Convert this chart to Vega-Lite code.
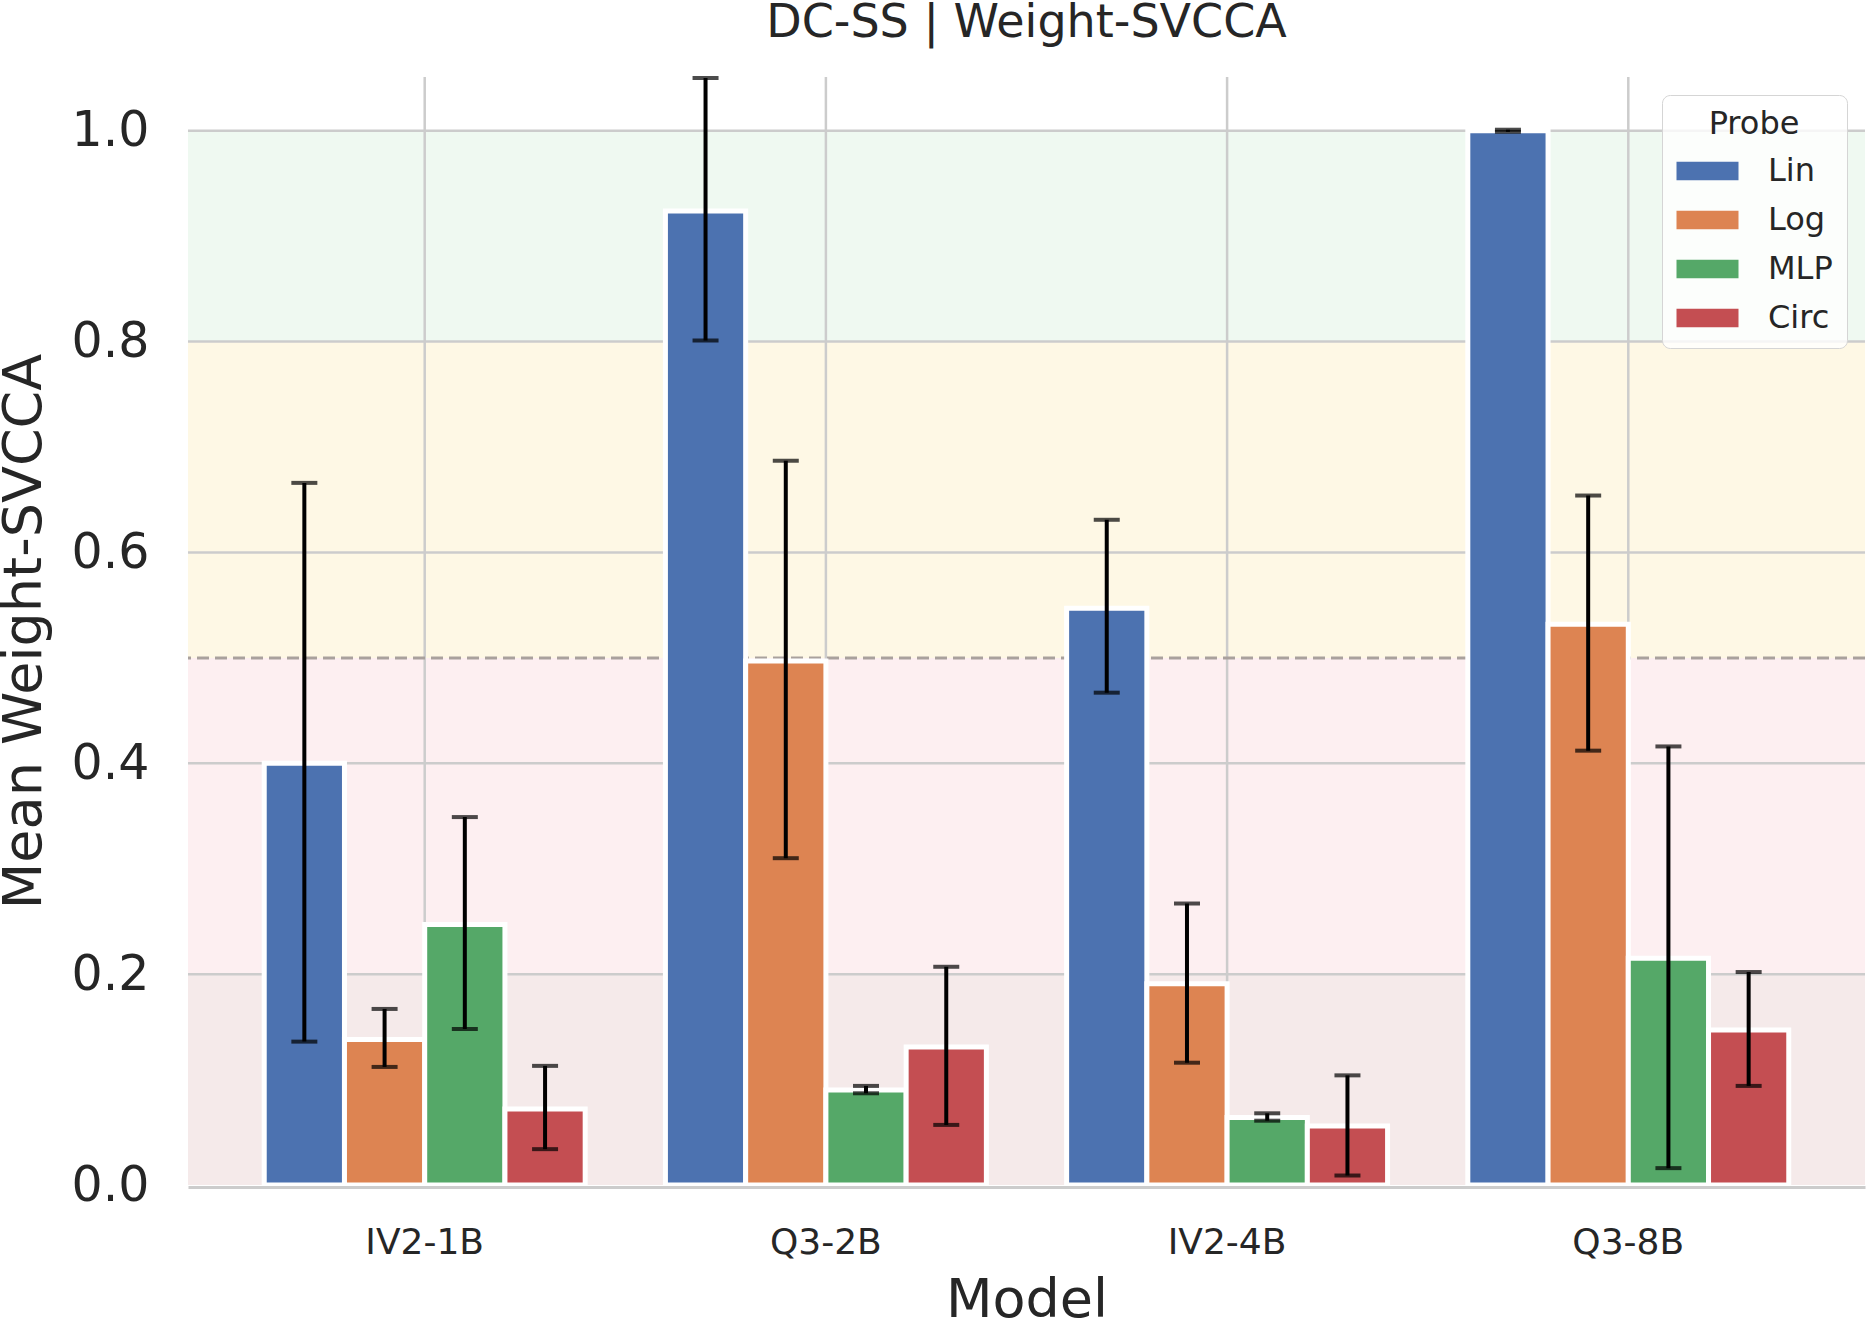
{
  "$schema": "https://vega.github.io/schema/vega-lite/v6.json",
  "width": 1677,
  "height": 1108,
  "autosize": {"type": "none"},
  "padding": {"left": 188, "top": 77, "right": 2, "bottom": 136},
  "background": "white",
  "config": {
    "font": "DejaVu Sans",
    "view": {"stroke": null},
    "axis": {
      "grid": false,
      "domain": false,
      "ticks": false,
      "labelColor": "#262626",
      "titleColor": "#262626",
      "titleFontWeight": "normal"
    }
  },
  "title": {
    "text": "DC-SS | Weight-SVCCA",
    "fontSize": 46,
    "fontWeight": "normal",
    "color": "#262626",
    "anchor": "middle",
    "offset": 29
  },
  "datasets": {
    "scores": [
      {"Model": "IV2-1B", "Probe": "Lin", "mean": 0.400, "lo": 0.136, "hi": 0.666},
      {"Model": "IV2-1B", "Probe": "Log", "mean": 0.138, "lo": 0.112, "hi": 0.167},
      {"Model": "IV2-1B", "Probe": "MLP", "mean": 0.247, "lo": 0.148, "hi": 0.349},
      {"Model": "IV2-1B", "Probe": "Circ", "mean": 0.072, "lo": 0.034, "hi": 0.113},
      {"Model": "Q3-2B", "Probe": "Lin", "mean": 0.924, "lo": 0.801, "hi": 1.050},
      {"Model": "Q3-2B", "Probe": "Log", "mean": 0.497, "lo": 0.310, "hi": 0.687},
      {"Model": "Q3-2B", "Probe": "MLP", "mean": 0.090, "lo": 0.087, "hi": 0.094},
      {"Model": "Q3-2B", "Probe": "Circ", "mean": 0.131, "lo": 0.057, "hi": 0.207},
      {"Model": "IV2-4B", "Probe": "Lin", "mean": 0.547, "lo": 0.467, "hi": 0.631},
      {"Model": "IV2-4B", "Probe": "Log", "mean": 0.191, "lo": 0.116, "hi": 0.267},
      {"Model": "IV2-4B", "Probe": "MLP", "mean": 0.064, "lo": 0.061, "hi": 0.068},
      {"Model": "IV2-4B", "Probe": "Circ", "mean": 0.056, "lo": 0.009, "hi": 0.104},
      {"Model": "Q3-8B", "Probe": "Lin", "mean": 1.000, "lo": 0.999, "hi": 1.001},
      {"Model": "Q3-8B", "Probe": "Log", "mean": 0.532, "lo": 0.412, "hi": 0.654},
      {"Model": "Q3-8B", "Probe": "MLP", "mean": 0.215, "lo": 0.016, "hi": 0.416},
      {"Model": "Q3-8B", "Probe": "Circ", "mean": 0.147, "lo": 0.094, "hi": 0.202}
    ],
    "zones": [
      {"zone": "very low", "lo": 0.0, "hi": 0.2},
      {"zone": "low", "lo": 0.2, "hi": 0.5},
      {"zone": "moderate", "lo": 0.5, "hi": 0.8},
      {"zone": "high", "lo": 0.8, "hi": 1.0}
    ],
    "gridY": [{"v": 0.2}, {"v": 0.4}, {"v": 0.6}, {"v": 0.8}, {"v": 1.0}],
    "models": [{"Model": "IV2-1B"}, {"Model": "Q3-2B"}, {"Model": "IV2-4B"}, {"Model": "Q3-8B"}],
    "threshold": [{"v": 0.5}]
  },
  "resolve": {"scale": {"fill": "independent", "color": "independent"}},
  "layer": [
    {
      "data": {"name": "zones"},
      "mark": {"type": "rect"},
      "encoding": {
        "y": {
          "field": "lo",
          "type": "quantitative",
          "scale": {"domain": [0, 1.051], "nice": false, "zero": false},
          "axis": {
            "title": "Mean Weight-SVCCA",
            "titleFontSize": 54,
            "labelFontSize": 49,
            "values": [0, 0.2, 0.4, 0.6, 0.8, 1.0],
            "format": ".1f",
            "labelPadding": 39,
            "titlePadding": 20
          }
        },
        "y2": {"field": "hi"},
        "fill": {
          "field": "zone",
          "type": "nominal",
          "scale": {
            "domain": ["very low", "low", "moderate", "high"],
            "range": ["#f5eaea", "#fdeff1", "#fef8e5", "#eff9f1"]
          },
          "legend": null
        }
      }
    },
    {
      "data": {"name": "gridY"},
      "mark": {"type": "rule", "color": "#cccccc", "strokeWidth": 2.5},
      "encoding": {"y": {"field": "v", "type": "quantitative"}}
    },
    {
      "data": {"name": "models"},
      "mark": {"type": "rule", "color": "#cccccc", "strokeWidth": 2.5},
      "encoding": {
        "x": {
          "field": "Model",
          "type": "nominal",
          "sort": ["IV2-1B", "Q3-2B", "IV2-4B", "Q3-8B"],
          "scale": {"paddingInner": 0, "paddingOuter": 0.09}
        }
      }
    },
    {
      "data": {"name": "threshold"},
      "mark": {"type": "rule", "color": "#a9a19d", "strokeWidth": 3, "strokeDash": [12, 6]},
      "encoding": {"y": {"field": "v", "type": "quantitative"}}
    },
    {
      "data": {"name": "scores"},
      "mark": {"type": "bar", "stroke": "white", "strokeWidth": 5},
      "encoding": {
        "x": {
          "field": "Model",
          "type": "nominal",
          "sort": ["IV2-1B", "Q3-2B", "IV2-4B", "Q3-8B"],
          "scale": {"paddingInner": 0, "paddingOuter": 0.09},
          "axis": {
            "title": "Model",
            "titleFontSize": 54,
            "labelFontSize": 36,
            "labelAngle": 0,
            "labelAlign": "center",
            "labelPadding": 55,
            "titlePadding": 13,
            "domain": true,
            "domainColor": "#cccccc",
            "domainWidth": 3,
            "offset": 2,
            "zindex": 1
          }
        },
        "xOffset": {
          "field": "Probe",
          "type": "nominal",
          "sort": ["Lin", "Log", "MLP", "Circ"],
          "scale": {"paddingInner": 0, "paddingOuter": 0.5}
        },
        "y": {"field": "mean", "type": "quantitative"},
        "color": {
          "field": "Probe",
          "type": "nominal",
          "scale": {
            "domain": ["Lin", "Log", "MLP", "Circ"],
            "range": ["#4c72b0", "#dd8452", "#55a868", "#c44e52"]
          },
          "legend": {
            "title": "Probe",
            "orient": "top-right",
            "offset": 18,
            "titleFontSize": 32,
            "titleFontWeight": "normal",
            "titleColor": "#262626",
            "titleAnchor": "middle",
            "labelFontSize": 32,
            "labelColor": "#262626",
            "symbolType": "M-1,-0.6H3V0.6H-1Z",
            "symbolSize": 961,
            "symbolStrokeWidth": 0,
            "symbolOpacity": 1,
            "labelOffset": 60,
            "rowPadding": 17,
            "padding": 14,
            "strokeColor": "#d5d5d5",
            "cornerRadius": 8,
            "fillColor": "rgba(255,255,255,0.8)",
            "titlePadding": 14,
            "encode": {"legend": {"update": {"strokeWidth": {"value": 3}}}}
          }
        }
      }
    },
    {
      "data": {"name": "scores"},
      "mark": {"type": "rule", "color": "black", "strokeWidth": 4},
      "encoding": {
        "x": {"field": "Model", "type": "nominal", "sort": ["IV2-1B", "Q3-2B", "IV2-4B", "Q3-8B"]},
        "xOffset": {"field": "Probe", "type": "nominal", "sort": ["Lin", "Log", "MLP", "Circ"]},
        "y": {"field": "lo", "type": "quantitative"},
        "y2": {"field": "hi"}
      }
    },
    {
      "data": {"name": "scores"},
      "mark": {"type": "tick", "color": "black", "size": 26, "thickness": 4, "orient": "horizontal"},
      "encoding": {
        "x": {"field": "Model", "type": "nominal", "sort": ["IV2-1B", "Q3-2B", "IV2-4B", "Q3-8B"]},
        "xOffset": {"field": "Probe", "type": "nominal", "sort": ["Lin", "Log", "MLP", "Circ"]},
        "y": {"field": "lo", "type": "quantitative"}
      }
    },
    {
      "data": {"name": "scores"},
      "mark": {"type": "tick", "color": "black", "size": 26, "thickness": 4, "orient": "horizontal"},
      "encoding": {
        "x": {"field": "Model", "type": "nominal", "sort": ["IV2-1B", "Q3-2B", "IV2-4B", "Q3-8B"]},
        "xOffset": {"field": "Probe", "type": "nominal", "sort": ["Lin", "Log", "MLP", "Circ"]},
        "y": {"field": "hi", "type": "quantitative"}
      }
    }
  ]
}
